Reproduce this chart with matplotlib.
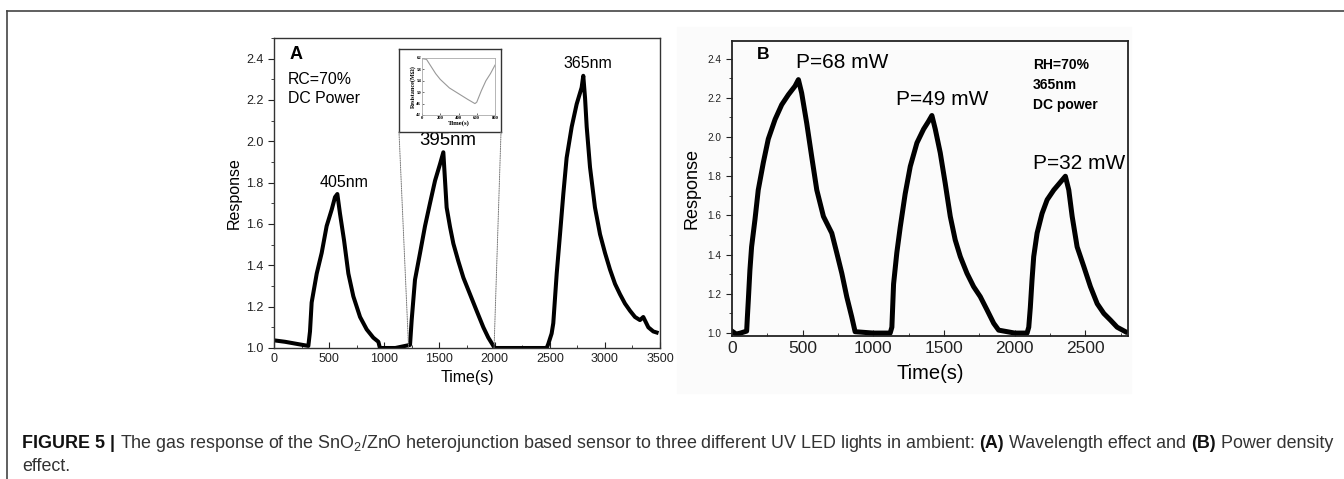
import matplotlib
matplotlib.use("Agg")
import matplotlib.pyplot as plt
from matplotlib.patches import Rectangle, ConnectionPatch
from matplotlib.lines import Line2D
from matplotlib.ticker import MultipleLocator

plt.rcParams['font.family'] = ['Liberation Sans', 'DejaVu Sans']
plt.rcParams['mathtext.fontset'] = 'custom'
plt.rcParams['mathtext.rm'] = 'Liberation Sans'

# panel A: wavelength effect
time_a = [0, 100, 205, 311, 326, 341, 387, 432, 477, 523, 553, 574, 598, 635, 674, 719,
          780, 840, 900, 946, 960, 1100, 1233, 1248, 1278, 1324, 1369, 1414, 1460, 1505,
          1535, 1565, 1596, 1626, 1671, 1717, 1777, 1837, 1898, 1943, 1989, 2000, 2200,
          2472, 2487, 2517, 2532, 2563, 2593, 2623, 2653, 2699, 2744, 2789, 2804, 2820,
          2835, 2865, 2910, 2956, 3001, 3046, 3092, 3137, 3182, 3228, 3273, 3318, 3348,
          3394, 3439, 3469]
resp_a = [1.037, 1.03, 1.02, 1.01, 1.08, 1.22, 1.36, 1.46, 1.59, 1.67, 1.73, 1.745, 1.65,
          1.52, 1.36, 1.25, 1.15, 1.09, 1.05, 1.03, 1.0, 1.0, 1.015, 1.135, 1.33, 1.46,
          1.59, 1.70, 1.81, 1.89, 1.947, 1.68, 1.585, 1.505, 1.42, 1.34, 1.26, 1.18, 1.10,
          1.05, 1.01, 1.0, 1.0, 1.0, 1.02, 1.07, 1.12, 1.36, 1.55, 1.745, 1.92, 2.07, 2.18,
          2.26, 2.317, 2.21, 2.07, 1.875, 1.68, 1.55, 1.46, 1.38, 1.31, 1.26, 1.215, 1.18,
          1.15, 1.135, 1.15, 1.10, 1.08, 1.075]
peaks_a = ['405nm', '395nm', '365nm']
peak_lbl_a = [(635, 1.80), (1578, 2.003), (2849, 2.376)]

# inset: resistance during 395nm exposure
inset_t = [0, 50, 100, 150, 200, 300, 400, 500, 580, 600, 650, 700, 750, 800]
inset_r = [61.8, 61.5, 59.0, 56.5, 54.5, 51.5, 49.5, 47.5, 46.0, 46.5, 50.5, 54.0, 56.5, 59.5]
inset_window = [1220, 1995]

# panel B: power density effect
time_b = [0, 30, 60, 104, 109, 116, 127, 139, 163, 186, 222, 257, 305, 352, 399, 446, 470,
          493, 529, 564, 600, 647, 706, 741, 777, 812, 847, 871, 1000, 1119, 1131, 1143,
          1166, 1190, 1225, 1261, 1308, 1355, 1390, 1414, 1438, 1473, 1508, 1544, 1579,
          1615, 1662, 1709, 1756, 1804, 1851, 1886, 2000, 2087, 2099, 2110, 2122, 2134,
          2158, 2193, 2229, 2276, 2323, 2358, 2382, 2406, 2441, 2488, 2535, 2583, 2630,
          2677, 2724, 2783]
resp_b = [1.01, 0.995, 1.0, 1.01, 1.08, 1.17, 1.32, 1.44, 1.58, 1.73, 1.87, 1.99, 2.09,
          2.165, 2.216, 2.26, 2.293, 2.225, 2.07, 1.90, 1.73, 1.595, 1.51, 1.41, 1.305,
          1.185, 1.083, 1.007, 1.0, 1.0, 1.03, 1.25, 1.41, 1.54, 1.71, 1.85, 1.97, 2.04,
          2.08, 2.11, 2.04, 1.92, 1.765, 1.595, 1.475, 1.39, 1.305, 1.237, 1.186, 1.118,
          1.05, 1.015, 1.0, 1.0, 1.03, 1.13, 1.27, 1.39, 1.51, 1.61, 1.68, 1.73, 1.77,
          1.80, 1.73, 1.595, 1.44, 1.34, 1.237, 1.15, 1.10, 1.066, 1.03, 1.007]
powers_b = ['P=68 mW', 'P=49 mW', 'P=32 mW']
power_lbl_b = [(777, 2.378), (1485, 2.19), (2453, 1.867)]

fig = plt.figure(figsize=(13.44, 4.79), dpi=100)

# page frame (top + left rule)
fig.add_artist(Line2D([7 / 1344, 7 / 1344], [0, 1 - 11 / 479], color='#444444', lw=1.2))
fig.add_artist(Line2D([7 / 1344, 1], [1 - 11 / 479, 1 - 11 / 479], color='#444444', lw=1.2))

# faint scanned background of panel B
fig.patches.append(Rectangle((677 / 1344, 86 / 479), 454 / 1344, 366 / 479,
                             transform=fig.transFigure, color='#fbfbfb', zorder=-1))

# ---- panel A
axA = fig.add_axes([0.2039, 0.2735, 0.2872, 0.6472])
axA.plot(time_a, resp_a, color='black', lw=2.9)
axA.set_xlim(0, 3500)
axA.set_ylim(1.0, 2.5)
axA.xaxis.set_major_locator(MultipleLocator(500))
axA.xaxis.set_minor_locator(MultipleLocator(250))
axA.yaxis.set_major_locator(MultipleLocator(0.2))
axA.yaxis.set_minor_locator(MultipleLocator(0.1))
axA.tick_params(axis='x', which='both', direction='in', labelsize=9, colors='#222222')
axA.tick_params(axis='y', which='both', direction='out', labelsize=9, colors='#222222')
axA.tick_params(which='major', length=4)
axA.tick_params(which='minor', length=2.5)
for s in axA.spines.values():
    s.set_color('#333333')
    s.set_linewidth(1.0)
axA.set_xlabel('Time(s)', fontsize=11.5, labelpad=4)
axA.set_ylabel('Response', fontsize=11.5, labelpad=3)
axA.text(145, 2.42, 'A', fontsize=13, fontweight='bold', va='center')
axA.text(128, 2.30, 'RC=70%', fontsize=11.4, va='center')
axA.text(128, 2.206, 'DC Power', fontsize=11.4, va='center')
for name, (x, y), fs in zip(peaks_a, peak_lbl_a, [11.5, 13.4, 11.5]):
    axA.text(x, y, name, fontsize=fs, ha='center', va='center')

# inset box + inner plot
box = fig.add_axes([399 / 1344, 347 / 479, 102 / 1344, 83 / 479])
box.set_xticks([])
box.set_yticks([])
for s in box.spines.values():
    s.set_color('#333333')
    s.set_linewidth(1.0)
ins = fig.add_axes([422 / 1344, 364 / 479, 73 / 1344, 57 / 479])
ins.plot(inset_t, inset_r, color='#999999', lw=0.8)
ins.set_xlim(0, 800)
ins.set_ylim(42, 62)
ins.set_xticks([0, 200, 400, 600, 800])
ins.set_yticks([42, 46, 50, 54, 58, 62])
ins.tick_params(labelsize=3.4, length=1.2, width=0.4, pad=0.5, direction='in')
for lab in ins.get_xticklabels() + ins.get_yticklabels():
    lab.set_family('Liberation Serif')
    lab.set_fontweight('bold')
for s in ins.spines.values():
    s.set_color('#aaaaaa')
    s.set_linewidth(0.6)
ins.set_xlabel('Time(s)', fontsize=4.8, family='Liberation Serif', fontweight='bold', labelpad=0.5)
ins.set_ylabel('Resistance(M\u03a9)', fontsize=4.4, family='Liberation Serif',
               fontweight='bold', labelpad=0.5)

for xa, xb in zip([0, 1], inset_window):
    con = ConnectionPatch(xyA=(xa, 0), coordsA=box.transAxes, xyB=(xb, 1.0),
                          coordsB=axA.transData, color='#777777', lw=0.7, ls=(0, (1.2, 1.2)))
    fig.add_artist(con)

# ---- panel B
axB = fig.add_axes([0.5446, 0.2985, 0.2946, 0.6159])
axB.set_facecolor('none')
axB.plot(time_b, resp_b, color='black', lw=3.6)
axB.set_xlim(0, 2800)
axB.set_ylim(0.985, 2.49)
axB.xaxis.set_major_locator(MultipleLocator(500))
axB.xaxis.set_minor_locator(MultipleLocator(250))
axB.yaxis.set_major_locator(MultipleLocator(0.2))
axB.yaxis.set_minor_locator(MultipleLocator(0.1))
axB.tick_params(axis='x', which='both', direction='in', labelsize=12.5, colors='#222222')
axB.tick_params(axis='y', which='both', direction='out', labelsize=7.2, colors='#222222')
axB.tick_params(which='major', length=4)
axB.tick_params(which='minor', length=2.5)
for s in axB.spines.values():
    s.set_color('#222222')
    s.set_linewidth(1.3)
axB.set_xlabel('Time(s)', fontsize=14.5, labelpad=6)
axB.set_ylabel('Response', fontsize=13, labelpad=5)
axB.text(179, 2.42, 'B', fontsize=12.6, fontweight='bold', va='center')
for name, (x, y) in zip(powers_b, power_lbl_b):
    axB.text(x, y, name, fontsize=15, ha='center', va='center')
axB.text(2129, 2.37, 'RH=70%', fontsize=10, fontweight='bold', va='center')
axB.text(2129, 2.267, '365nm', fontsize=10, fontweight='bold', va='center')
axB.text(2129, 2.165, 'DC power', fontsize=10, fontweight='bold', va='center')

# ---- caption, mixed bold / regular runs
cap_fs = 12.9
pieces = [('FIGURE 5 |', 'bold', '#111111'),
          ('The gas response of the SnO$_2$/ZnO heterojunction based sensor to three '
           'different UV LED lights in ambient:', 'normal', '#333333'),
          ('(A)', 'bold', '#111111'),
          ('Wavelength effect and', 'normal', '#333333'),
          ('(B)', 'bold', '#111111'),
          ('Power density', 'normal', '#333333')]
fig.canvas.draw()
rend = fig.canvas.get_renderer()
gap = 0.278 * cap_fs * 100 / 72
x = 22
for txt, w, c in pieces:
    t = fig.text(x / 1344, 1 - 448 / 479, txt, fontsize=cap_fs, fontweight=w, color=c,
                 va='baseline')
    x += t.get_window_extent(rend).width + gap
fig.text(22 / 1344, 1 - 471 / 479, 'effect.', fontsize=cap_fs, color='#333333', va='baseline')

fig.savefig('out.png', dpi=100)
